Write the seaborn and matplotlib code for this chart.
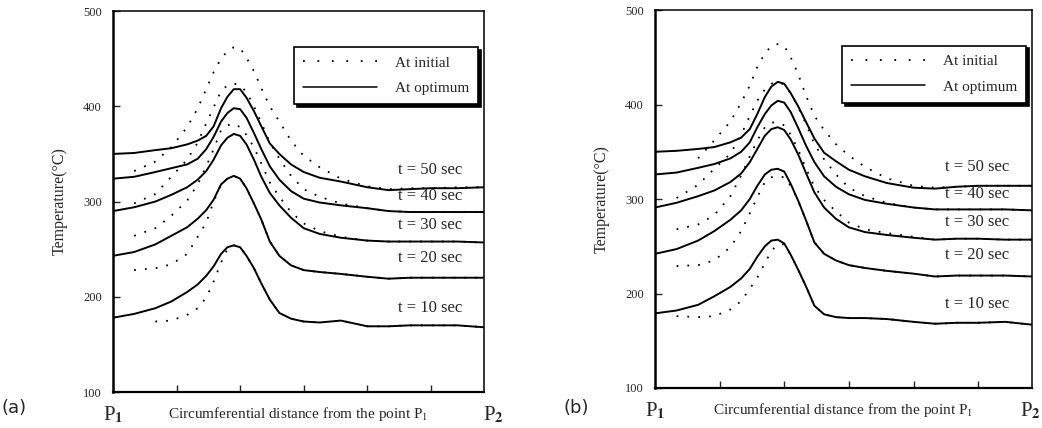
import numpy as np
import pandas as pd
import matplotlib
matplotlib.use("Agg")
import matplotlib.pyplot as plt
from matplotlib.lines import Line2D
import seaborn as sns

# circumferential positions (arbitrary units, P1 = 0, P2 = 350)
x = [0, 20, 40, 55, 70, 80, 88, 95, 102, 108, 114, 120, 126, 133, 140,
     148, 157, 168, 180, 195, 215, 240, 260, 280, 300, 325, 350]
times = ["t = 50 sec", "t = 40 sec", "t = 30 sec", "t = 20 sec", "t = 10 sec"]
nan = np.nan

# panel (a) - at optimum
a_opt_50 = [350, 351, 354, 356, 360, 364, 369, 379, 398, 410, 418, 418, 409, 395, 379, 361, 350, 339, 331, 325, 321, 315, 312, 313, 314, 314, 315]
a_opt_40 = [324, 326, 331, 335, 339, 345, 355, 368, 384, 393, 398, 397, 388, 372, 355, 337, 323, 311, 303, 299, 296, 293, 290, 289, 289, 289, 289]
a_opt_30 = [290, 294, 300, 307, 315, 323, 332, 344, 359, 367, 371, 369, 360, 344, 326, 309, 296, 283, 272, 266, 262, 259, 258, 258, 258, 258, 257]
a_opt_20 = [243, 247, 255, 264, 273, 282, 291, 302, 318, 324, 327, 324, 314, 298, 281, 258, 243, 233, 228, 226, 224, 221, 219, 220, 220, 220, 220]
a_opt_10 = [178, 182, 188, 195, 205, 213, 222, 232, 245, 252, 254, 252, 243, 230, 214, 197, 183, 177, 174, 173, 175, 169, 169, 170, 170, 170, 168]
# panel (a) - at initial
a_ini_50 = [nan, 332, 342, 357, 378, 398, 418, 436, 450, 458, 462, 461, 451, 437, 419, 400, 384, 364, 348, 336, 324, 316, 313, 314, 314, 315, 315]
a_ini_40 = [nan, 298, 308, 326, 344, 362, 382, 399, 416, 422, 424, 422, 415, 400, 383, 362, 345, 327, 313, 305, 298, 293, 290, 289, 289, 289, 289]
a_ini_30 = [nan, 264, 272, 285, 301, 318, 337, 355, 375, 380, 382, 378, 370, 357, 340, 320, 305, 289, 277, 269, 263, 259, 258, 258, 258, 258, 257]
a_ini_20 = [nan, 228, 230, 234, 245, 263, 278, 300, 318, 324, 327, 324, 314, 298, 281, 258, 243, 233, 228, 226, 224, 221, 219, 220, 220, 220, 220]
a_ini_10 = [nan, nan, 174, 175, 181, 188, 199, 216, 236, 250, 254, 252, 243, 230, 214, 197, 183, 177, 174, 173, 175, 169, 169, 170, 170, 170, 168]

# panel (b) - at optimum
b_opt_50 = [350, 351, 353, 355, 360, 365, 374, 390, 408, 419, 424, 422, 412, 398, 382, 364, 349, 340, 331, 324, 317, 312, 311, 313, 314, 314, 314]
b_opt_40 = [326, 328, 333, 337, 343, 350, 360, 376, 390, 399, 404, 402, 392, 375, 357, 339, 324, 313, 305, 299, 295, 291, 289, 289, 289, 289, 288]
b_opt_30 = [291, 296, 303, 309, 318, 327, 339, 353, 367, 374, 376, 373, 363, 347, 328, 307, 291, 279, 270, 265, 262, 259, 257, 258, 258, 257, 257]
b_opt_20 = [242, 247, 256, 266, 278, 288, 300, 314, 326, 331, 332, 329, 316, 298, 278, 254, 242, 235, 230, 227, 224, 221, 218, 219, 219, 219, 218]
b_opt_10 = [179, 182, 188, 197, 207, 216, 226, 239, 250, 256, 257, 253, 241, 225, 208, 187, 178, 175, 174, 174, 173, 170, 168, 169, 169, 170, 167]
# panel (b) - at initial
b_ini_50 = [nan, nan, 343, 362, 382, 402, 420, 440, 454, 462, 464, 462, 450, 432, 410, 388, 373, 358, 346, 334, 322, 314, 312, 313, 314, 314, 314]
b_ini_40 = [nan, 301, 315, 332, 348, 368, 388, 404, 416, 422, 424, 421, 412, 397, 380, 358, 342, 326, 312, 303, 296, 291, 289, 289, 289, 289, 288]
b_ini_30 = [nan, 268, 273, 283, 303, 325, 345, 362, 376, 381, 381, 378, 368, 352, 333, 313, 299, 287, 275, 268, 264, 260, 257, 258, 258, 257, 257]
b_ini_20 = [nan, 229, 230, 235, 249, 266, 285, 302, 318, 323, 324, 323, 314, 298, 278, 254, 242, 235, 230, 227, 224, 221, 218, 219, 219, 219, 218]
b_ini_10 = [nan, 176, 175, 176, 183, 192, 205, 217, 232, 245, 252, 252, 241, 225, 208, 187, 178, 175, 174, 174, 173, 170, 168, 169, 169, 170, 167]

# label positions for the time annotations (x, temperature)
label_x = [299, 299, 299, 299, 299]
label_y = [325, 297, 267, 232, 180]

sns.set_style("ticks")
plt.rcParams['font.family'] = ['Liberation Serif', 'DejaVu Serif']
plt.rcParams['mathtext.fontset'] = 'stix'

fig = plt.figure(figsize=(10.42, 4.28), dpi=100)
ax_a = fig.add_axes([0.1084, 0.0841, 0.356, 0.890])
ax_b = fig.add_axes([0.6286, 0.0935, 0.3618, 0.883])

panels = [
    (ax_a, [a_opt_50, a_opt_40, a_opt_30, a_opt_20, a_opt_10],
     [a_ini_50, a_ini_40, a_ini_30, a_ini_20, a_ini_10], "(a)", 0.0),
    (ax_b, [b_opt_50, b_opt_40, b_opt_30, b_opt_20, b_opt_10],
     [b_ini_50, b_ini_40, b_ini_30, b_ini_20, b_ini_10], "(b)", 0.540),
]

for ax, opt, ini, tag, tag_x in panels:
    for i in range(5):
        d_ini = pd.DataFrame({"x": x, "T": ini[i]}).dropna()
        sns.lineplot(data=d_ini, x="x", y="T", ax=ax, color="black",
                     linewidth=1.3, linestyle=(0, (1, 5)))
        d_opt = pd.DataFrame({"x": x, "T": opt[i]})
        sns.lineplot(data=d_opt, x="x", y="T", ax=ax, color="black",
                     linewidth=1.4)
        ax.text(label_x[i], label_y[i], times[i], ha="center", va="bottom",
                fontsize=12)

    ax.set_xlim(0, 350)
    ax.set_ylim(100, 500)
    ax.set_yticks([100, 200, 300, 400, 500])
    ax.set_xticks([60, 120, 180, 240, 300])
    ax.set_xticklabels([])
    ax.tick_params(axis="both", direction="in", length=5, width=1, labelsize=9)
    ax.tick_params(axis="y", pad=8)
    for s in ax.spines.values():
        s.set_color("black")
        s.set_linewidth(1.1)
    ax.spines["left"].set_linewidth(1.8)
    ax.spines["bottom"].set_linewidth(1.6)

    ax.set_ylabel("Temperature(°C)", fontsize=11.5, labelpad=11)
    ax.set_xlabel("Circumferential distance from the point P$_{\\rm 1}$",
                  fontsize=11, labelpad=6)
    ax.text(0, -0.033, "P$_{\\bf 1}$", transform=ax.transAxes, ha="center",
            va="top", fontsize=15)
    fig.text(tag_x + 0.001, 0.047, tag, family="DejaVu Sans", fontsize=13,
             ha="left", va="center")

    handles = [Line2D([], [], color="black", linewidth=1.3, linestyle=(0, (1, 7))),
               Line2D([], [], color="black", linewidth=1.1)]
    leg = ax.legend(handles, ["At initial", "At optimum"], loc="upper right",
                    bbox_to_anchor=(0.985, 0.906), borderaxespad=0,
                    frameon=True, fancybox=False,
                    shadow={"color": "black", "alpha": 1}, edgecolor="black",
                    framealpha=1, fontsize=11, handlelength=4.8,
                    borderpad=0.6, labelspacing=0.75, handletextpad=1.2)
    leg.get_frame().set_linewidth(1.2)

ax_a.text(1.025, -0.033, "P$_{\\bf 2}$", transform=ax_a.transAxes, ha="center",
          va="top", fontsize=15)
fig.text(0.999, 0.0935 - 0.033 * 0.883, "P$_{\\bf 2}$", ha="right", va="top",
         fontsize=15)

fig.savefig("out.png", dpi=100)
